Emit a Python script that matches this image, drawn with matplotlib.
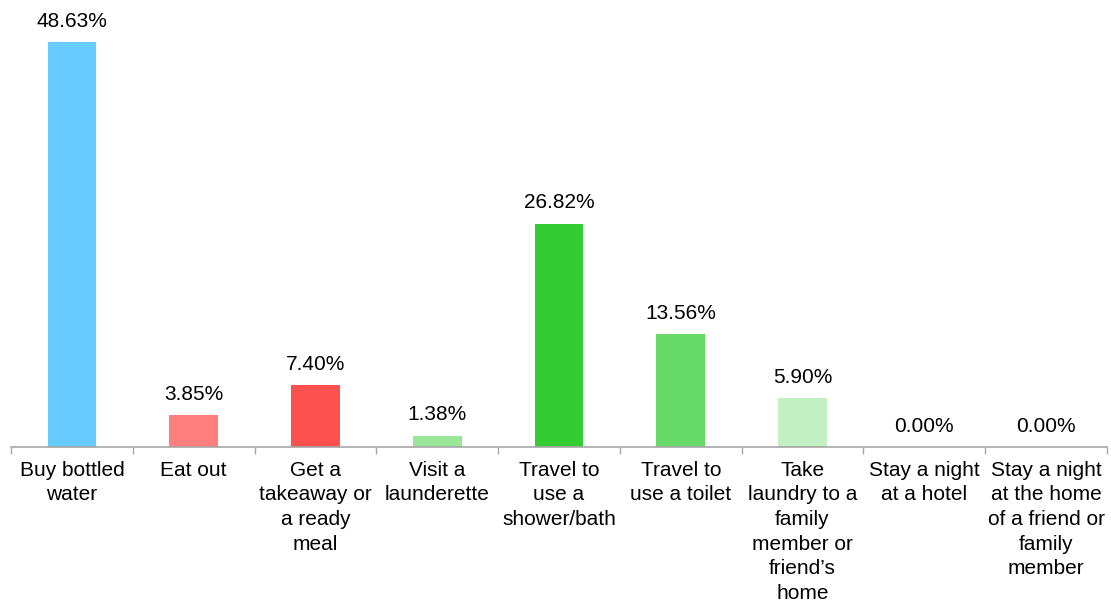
import numpy as np
import matplotlib
matplotlib.use("Agg")
import matplotlib.pyplot as plt

# ─── Data ─────────────────────────────────────────────────────────────────────
categories = [
    "Buy bottled\nwater",
    "Eat out",
    "Get a\ntakeaway or\na ready\nmeal",
    "Visit a\nlaunderette",
    "Travel to\nuse a\nshower/bath",
    "Travel to\nuse a toilet",
    "Take\nlaundry to a\nfamily\nmember or\nfriend\u2019s\nhome",
    "Stay a night\nat a hotel",
    "Stay a night\nat the home\nof a friend or\nfamily\nmember",
]
values = [48.63, 3.85, 7.40, 1.38, 26.82, 13.56, 5.90, 0.00, 0.00]
colors = ["#66CCFF", "#FF7F7F", "#FF5050", "#99E699", "#33CC33",
          "#66D966", "#C2F0C2", "#FFFFFF", "#FFFFFF"]

plt.rcParams["font.family"] = ["Liberation Sans", "DejaVu Sans"]

fig = plt.figure(figsize=(11.11, 6.04), dpi=100)
ax = fig.add_axes([11 / 1111, 157 / 604, 1096 / 1111, 447 / 604])

x = np.arange(len(values))
ax.bar(x, values, width=0.4, color=colors, zorder=2)

for xi, v in zip(x, values):
    ax.annotate(f"{v:.2f}%", (xi, v), xytext=(0, 8), textcoords="offset points",
                ha="center", va="bottom", fontsize=15)

ax.set_xlim(-0.5, len(values) - 0.5)
ax.set_ylim(0, 53.66)
ax.set_yticks([])

# category labels centred below; ticks at the boundaries
ax.set_xticks(x)
ax.set_xticklabels(categories, fontsize=15, linespacing=1.37)
ax.tick_params(axis="x", which="major", length=0, pad=10)
ax.set_xticks(np.arange(len(values) + 1) - 0.5, minor=True)
ax.tick_params(axis="x", which="minor", length=5, color="#A6A6A6", width=1)

for s in ["top", "right", "left"]:
    ax.spines[s].set_visible(False)
ax.spines["bottom"].set_color("#A6A6A6")
ax.spines["bottom"].set_linewidth(1.2)

fig.savefig("out.png", dpi=100)
